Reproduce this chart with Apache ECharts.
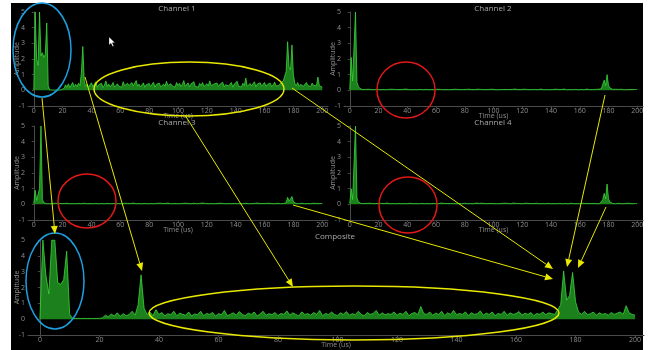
<!DOCTYPE html>
<html><head><meta charset="utf-8">
<script src="https://cdn.jsdelivr.net/npm/echarts@6/dist/echarts.min.js"></script>
<style>
html,body{margin:0;padding:0;background:#fff;width:654px;height:350px;overflow:hidden}
#bg{position:absolute;left:11px;top:3px;width:632px;height:347px;background:#000}
#c{position:absolute;left:0;top:0;width:654px;height:350px}
</style></head>
<body><div id="bg"></div><div id="c"></div>
<script>
// ---------- data (1 µs per sample, 0..200 µs) ----------
const timeStep = 1;
const xTicks = [0, 20, 40, 60, 80, 100, 120, 140, 160, 180, 200];
const panelTitles = ['Channel 1', 'Channel 2', 'Channel 3', 'Channel 4', 'Composite'];
const xName = 'Time (us)';
const yName = 'Amplitude';

const channel1 = [
  0.02, 5.0, 2.0, 1.6, 5.0, 2.2, 2.4, 2.1, 2.3, 4.3,
  0.3, 0.03, 0.02, 0.02, 0.02, 0.02, 0.02, 0.02, 0.02, 0.03,
  0.05, 0.12, 0.35, 0.2, 0.42, 0.18, 0.3, 0.5, 0.22, 0.38,
  0.25, 0.45, 0.3, 1.1, 2.8, 0.6, 0.25, 0.4, 0.2, 0.35,
  0.48, 0.22, 0.3, 0.55, 0.2, 0.36, 0.28, 0.45, 0.18, 0.33,
  0.6, 0.25, 0.4, 0.22, 0.35, 0.5, 0.2, 0.3, 0.42, 0.26,
  0.38, 0.2, 0.55, 0.3, 0.24, 0.45, 0.3, 0.2, 0.5, 0.28,
  0.35, 0.62, 0.25, 0.4, 0.22, 0.3, 0.48, 0.2, 0.35, 0.27,
  0.44, 0.25, 0.3, 0.52, 0.2, 0.38, 0.3, 0.46, 0.22, 0.33,
  0.4, 0.26, 0.58, 0.3, 0.22, 0.42, 0.28, 0.35, 0.2, 0.5,
  0.3, 0.45, 0.25, 0.38, 0.62, 0.26, 0.33, 0.48, 0.22, 0.4,
  0.3, 0.55, 0.25, 0.36, 0.2, 0.44, 0.3, 0.5, 0.24, 0.35,
  0.42, 0.28, 0.6, 0.3, 0.22, 0.4, 0.33, 0.47, 0.25, 0.38,
  0.3, 0.52, 0.22, 0.36, 0.45, 0.28, 0.34, 0.5, 0.2, 0.4,
  0.3, 0.58, 0.26, 0.38, 0.22, 0.45, 0.3, 0.78, 0.25, 0.36,
  0.44, 0.28, 0.35, 0.55, 0.22, 0.4, 0.3, 0.48, 0.26, 0.34,
  0.5, 0.25, 0.38, 0.3, 0.46, 0.22, 0.36, 0.52, 0.28, 0.4,
  0.3, 0.45, 0.35, 0.6, 0.5, 1.2, 3.1, 1.5, 1.3, 2.9,
  1.0, 0.45, 0.3, 0.5, 0.25, 0.38, 0.44, 0.26, 0.35, 0.5,
  0.3, 0.4, 0.25, 0.46, 0.32, 0.38, 0.28, 0.85, 0.3, 0.36, 0.2
];
const channel2 = [
  0.05, 2.1, 0.6, 0.5, 5.0, 0.5, 0.25, 0.12, 0.06, 0.05,
  0.04, 0.06, 0.05, 0.07, 0.04, 0.05, 0.06, 0.04, 0.05, 0.07,
  0.05, 0.04, 0.06, 0.05, 0.08, 0.04, 0.05, 0.06, 0.04, 0.07,
  0.05, 0.06, 0.04, 0.05, 0.07, 0.05, 0.04, 0.06, 0.05, 0.08,
  0.04, 0.05, 0.06, 0.04, 0.07, 0.05, 0.06, 0.04, 0.05, 0.06,
  0.07, 0.04, 0.05, 0.06, 0.05, 0.04, 0.08, 0.05, 0.06, 0.04,
  0.05, 0.07, 0.04, 0.06, 0.05, 0.04, 0.06, 0.05, 0.07, 0.04,
  0.06, 0.05, 0.04, 0.07, 0.05, 0.06, 0.04, 0.05, 0.08, 0.05,
  0.04, 0.06, 0.05, 0.07, 0.04, 0.05, 0.06, 0.05, 0.04, 0.07,
  0.05, 0.06, 0.04, 0.05, 0.08, 0.05, 0.04, 0.06, 0.05, 0.07,
  0.04, 0.05, 0.06, 0.04, 0.07, 0.05, 0.06, 0.05, 0.04, 0.06,
  0.07, 0.05, 0.04, 0.06, 0.05, 0.08, 0.04, 0.05, 0.06, 0.05,
  0.04, 0.07, 0.05, 0.06, 0.04, 0.05, 0.07, 0.05, 0.04, 0.06,
  0.05, 0.04, 0.06, 0.08, 0.05, 0.04, 0.06, 0.05, 0.07, 0.04,
  0.06, 0.05, 0.04, 0.07, 0.05, 0.06, 0.04, 0.05, 0.06, 0.08,
  0.05, 0.04, 0.06, 0.05, 0.07, 0.04, 0.05, 0.06, 0.05, 0.04,
  0.07, 0.05, 0.06, 0.04, 0.05, 0.08, 0.05, 0.04, 0.06, 0.05,
  0.04, 0.06, 0.05, 0.07, 0.06, 0.1, 0.2, 0.65, 0.3, 1.0,
  0.3, 0.15, 0.08, 0.06, 0.05, 0.07, 0.04, 0.06, 0.05, 0.07,
  0.05, 0.04, 0.06, 0.05, 0.08, 0.05, 0.04, 0.06, 0.07, 0.05, 0.05
];
const channel3 = [
  0.05, 0.9, 0.25, 0.2, 1.0, 5.0, 0.3, 0.1, 0.05, 0.04,
  0.05, 0.04, 0.06, 0.05, 0.04, 0.07, 0.05, 0.06, 0.04, 0.05,
  0.06, 0.05, 0.04, 0.07, 0.05, 0.04, 0.06, 0.05, 0.08, 0.04,
  0.05, 0.06, 0.05, 0.04, 0.06, 0.07, 0.05, 0.04, 0.06, 0.05,
  0.07, 0.04, 0.05, 0.06, 0.05, 0.04, 0.07, 0.05, 0.06, 0.04,
  0.05, 0.06, 0.08, 0.04, 0.05, 0.06, 0.05, 0.04, 0.07, 0.05,
  0.06, 0.04, 0.05, 0.07, 0.05, 0.06, 0.04, 0.05, 0.06, 0.08,
  0.05, 0.04, 0.06, 0.05, 0.07, 0.04, 0.05, 0.06, 0.05, 0.04,
  0.06, 0.05, 0.07, 0.04, 0.05, 0.06, 0.04, 0.07, 0.05, 0.06,
  0.04, 0.05, 0.06, 0.08, 0.05, 0.04, 0.06, 0.05, 0.07, 0.05,
  0.06, 0.04, 0.05, 0.06, 0.05, 0.07, 0.04, 0.06, 0.05, 0.04,
  0.05, 0.07, 0.06, 0.04, 0.05, 0.06, 0.05, 0.08, 0.04, 0.06,
  0.05, 0.04, 0.06, 0.05, 0.07, 0.04, 0.06, 0.05, 0.05, 0.07,
  0.04, 0.06, 0.05, 0.04, 0.07, 0.05, 0.06, 0.04, 0.05, 0.06,
  0.05, 0.04, 0.07, 0.05, 0.06, 0.04, 0.05, 0.07, 0.05, 0.04,
  0.06, 0.05, 0.04, 0.06, 0.05, 0.08, 0.04, 0.05, 0.06, 0.05,
  0.04, 0.06, 0.05, 0.07, 0.04, 0.05, 0.06, 0.04, 0.05, 0.07,
  0.05, 0.04, 0.06, 0.05, 0.07, 0.1, 0.45, 0.2, 0.3, 0.5,
  0.15, 0.08, 0.05, 0.06, 0.04, 0.05, 0.07, 0.05, 0.04, 0.06,
  0.05, 0.06, 0.04, 0.05, 0.07, 0.05, 0.06, 0.04, 0.05, 0.06, 0.05
];
const channel4 = [
  0.05, 1.0, 0.3, 0.4, 5.0, 0.4, 0.15, 0.08, 0.05, 0.06,
  0.05, 0.04, 0.06, 0.05, 0.07, 0.04, 0.05, 0.06, 0.05, 0.04,
  0.07, 0.05, 0.06, 0.04, 0.05, 0.06, 0.08, 0.05, 0.04, 0.06,
  0.05, 0.07, 0.04, 0.05, 0.06, 0.05, 0.04, 0.07, 0.05, 0.06,
  0.04, 0.05, 0.07, 0.05, 0.04, 0.06, 0.05, 0.08, 0.04, 0.05,
  0.06, 0.05, 0.04, 0.07, 0.05, 0.06, 0.04, 0.05, 0.06, 0.05,
  0.04, 0.06, 0.05, 0.04, 0.08, 0.05, 0.06, 0.04, 0.05, 0.07,
  0.05, 0.04, 0.06, 0.05, 0.04, 0.07, 0.05, 0.06, 0.04, 0.05,
  0.07, 0.05, 0.04, 0.06, 0.05, 0.06, 0.04, 0.05, 0.08, 0.04,
  0.06, 0.05, 0.07, 0.04, 0.05, 0.06, 0.05, 0.04, 0.06, 0.05,
  0.05, 0.06, 0.04, 0.07, 0.05, 0.04, 0.06, 0.05, 0.07, 0.04,
  0.06, 0.05, 0.04, 0.05, 0.08, 0.05, 0.06, 0.04, 0.05, 0.06,
  0.04, 0.05, 0.07, 0.05, 0.06, 0.04, 0.05, 0.06, 0.05, 0.04,
  0.07, 0.05, 0.04, 0.06, 0.05, 0.07, 0.04, 0.05, 0.06, 0.05,
  0.04, 0.06, 0.05, 0.08, 0.04, 0.05, 0.06, 0.05, 0.04, 0.07,
  0.05, 0.06, 0.04, 0.05, 0.07, 0.05, 0.04, 0.06, 0.05, 0.06,
  0.04, 0.05, 0.07, 0.05, 0.06, 0.04, 0.05, 0.08, 0.05, 0.04,
  0.06, 0.05, 0.04, 0.06, 0.05, 0.1, 0.3, 0.7, 0.35, 1.3,
  0.35, 0.15, 0.08, 0.05, 0.06, 0.04, 0.05, 0.07, 0.05, 0.04,
  0.06, 0.05, 0.04, 0.07, 0.05, 0.06, 0.05, 0.04, 0.06, 0.05, 0.05
];
const composite = [
  0.02, 5.0, 2.8, 1.6, 5.0, 5.0, 2.3, 2.2, 2.5, 4.3,
  0.3, 0.05, 0.04, 0.05, 0.04, 0.05, 0.04, 0.05, 0.04, 0.05,
  0.05, 0.08, 0.25, 0.15, 0.32, 0.2, 0.4, 0.18, 0.35, 0.22,
  0.3, 0.5, 0.25, 0.9, 2.8, 0.7, 0.3, 0.45, 0.22, 0.6,
  0.3, 0.42, 0.2, 0.35, 0.28, 0.5, 0.22, 0.38, 0.3, 0.25,
  0.45, 0.2, 0.33, 0.28, 0.5, 0.22, 0.36, 0.3, 0.42, 0.2,
  0.35, 0.28, 0.55, 0.22, 0.3, 0.4, 0.25, 0.48, 0.3, 0.22,
  0.38, 0.3, 0.45, 0.2, 0.33, 0.5, 0.25, 0.35, 0.28, 0.42,
  0.22, 0.36, 0.3, 0.52, 0.25, 0.4, 0.3, 0.2, 0.46, 0.3,
  0.35, 0.25, 0.42, 0.3, 0.55, 0.22, 0.36, 0.28, 0.45, 0.3,
  0.22, 0.4, 0.3, 0.48, 0.25, 0.35, 0.28, 0.5, 0.3, 0.22,
  0.42, 0.3, 0.36, 0.55, 0.25, 0.4, 0.28, 0.35, 0.3, 0.46,
  0.25, 0.38, 0.3, 0.5, 0.22, 0.36, 0.42, 0.28, 0.8, 0.35,
  0.3, 0.45, 0.25, 0.38, 0.3, 0.5, 0.22, 0.4, 0.3, 0.55,
  0.28, 0.36, 0.3, 0.46, 0.22, 0.4, 0.3, 0.35, 0.52, 0.25,
  0.38, 0.3, 0.45, 0.22, 0.36, 0.3, 0.5, 0.25, 0.4, 0.3,
  0.35, 0.48, 0.25, 0.38, 0.3, 0.42, 0.22, 0.36, 0.3, 0.45,
  0.28, 0.4, 0.35, 0.3, 0.6, 0.9, 3.05, 1.2, 1.5, 2.95,
  1.1, 0.45, 0.3, 0.5, 0.28, 0.35, 0.45, 0.25, 0.4, 0.3,
  0.36, 0.25, 0.42, 0.3, 0.38, 0.45, 0.3, 0.85, 0.4, 0.3, 0.25
];
const seriesValues = [channel1, channel2, channel3, channel4, composite];

// ---------- layout ----------
const grids = [
  { left: 28, top: 12, width: 300, height: 94 },
  { left: 344, top: 12, width: 299, height: 94 },
  { left: 28, top: 126, width: 300, height: 94 },
  { left: 344, top: 126, width: 299, height: 94 },
  { left: 28, top: 240, width: 616, height: 95 }
];
const xMax = [204, 204, 204, 204, 203];
const titlePos = [[177, 9], [493, 9], [177, 123], [493, 123], [335, 237]];

const AX = '#4a4a4a', TXT = '#8e8e8e';
const FONT = '"Open Sans", "DejaVu Sans", sans-serif';

const chart = echarts.init(document.getElementById('c'), null, { renderer: 'canvas' });

const xAxes = grids.map((g, i) => ({
  gridIndex: i, type: 'value', min: -4, max: xMax[i],
  axisLine: { show: true, onZero: false, lineStyle: { color: AX } },
  axisTick: { show: true, customValues: xTicks, length: 2, lineStyle: { color: AX } },
  axisLabel: { customValues: xTicks, color: TXT, fontSize: 7, margin: 1, fontFamily: FONT },
  splitLine: { show: false },
  name: xName, nameLocation: 'middle', nameGap: 6, nameMoveOverlap: false,
  nameTextStyle: { color: TXT, fontSize: 7, fontFamily: FONT }
}));
const yAxes = grids.map((g, i) => ({
  gridIndex: i, type: 'value', min: -1, max: 5, interval: 1,
  axisLine: { show: true, lineStyle: { color: AX } },
  axisTick: { show: true, length: 2, lineStyle: { color: AX } },
  axisLabel: { color: TXT, fontSize: 7, margin: 3, fontFamily: FONT },
  splitLine: { show: false },
  name: yName, nameLocation: 'middle', nameGap: 8, nameMoveOverlap: false,
  nameTextStyle: { color: TXT, fontSize: 7, fontFamily: FONT }
}));
const series = seriesValues.map((vals, i) => ({
  type: 'line', xAxisIndex: i, yAxisIndex: i,
  data: vals.map((v, k) => [k * timeStep, v]),
  symbol: 'none', showSymbol: false,
  lineStyle: { color: '#3bd63b', width: 0.8 },
  areaStyle: { color: '#1f8f1f', opacity: 0.9 },
  z: 2
}));

// ---------- annotations ----------
const YEL = '#e8e800', BLUE = '#1e9fe0', RED = '#e01818';
function ellipse(cx, cy, rx, ry, color) {
  return { type: 'ellipse', z: 100, silent: true, shape: { cx, cy, rx, ry },
    style: { fill: null, stroke: color, lineWidth: 1.5 } };
}
function arrow(x1, y1, x2, y2) {
  const L = 8, W = 3.5;
  const dx = x2 - x1, dy = y2 - y1, len = Math.hypot(dx, dy);
  const ux = dx / len, uy = dy / len;
  const bx = x2 - ux * L, by = y2 - uy * L;
  return [
    { type: 'line', z: 100, silent: true, shape: { x1, y1, x2: bx, y2: by },
      style: { stroke: YEL, lineWidth: 1 } },
    { type: 'polygon', z: 100, silent: true,
      shape: { points: [[x2, y2], [bx - uy * W, by + ux * W], [bx + uy * W, by - ux * W]] },
      style: { fill: YEL } }
  ];
}
const graphics = [];
panelTitles.forEach((t, i) => graphics.push({
  type: 'text', z: 100, silent: true, x: titlePos[i][0], y: titlePos[i][1],
  style: { text: t, align: 'center', verticalAlign: 'middle', fill: '#a8a8a8',
    font: '8px ' + FONT }
}));
graphics.push(
  ellipse(42, 50, 29, 47, BLUE),
  ellipse(189, 89, 95, 27, YEL),
  ellipse(406, 90, 29, 28, RED),
  ellipse(87, 201, 29, 27, RED),
  ellipse(408, 205, 29, 28, RED),
  ellipse(55, 281, 29, 48, BLUE),
  ellipse(354, 313, 205, 27, YEL)
);
graphics.push(
  ...arrow(42, 98, 55, 234),
  ...arrow(85, 77, 142, 271),
  ...arrow(185, 115, 293, 287),
  ...arrow(292, 88, 553, 269),
  ...arrow(293, 205, 553, 279),
  ...arrow(605, 95, 567, 267),
  ...arrow(606, 207, 578, 268)
);
// mouse cursor
graphics.push({ type: 'polygon', z: 100, silent: true,
  shape: { points: [[109, 37], [109, 45], [111, 43.2], [112.6, 46.5], [113.8, 46], [112.3, 42.7], [115, 42.7]] },
  style: { fill: '#ffffff', stroke: '#000', lineWidth: 0.3 } });

chart.setOption({
  backgroundColor: 'transparent',
  animation: false,
  grid: grids,
  xAxis: xAxes,
  yAxis: yAxes,
  series: series,
  graphic: { elements: graphics }
});
</script>
</body></html>
